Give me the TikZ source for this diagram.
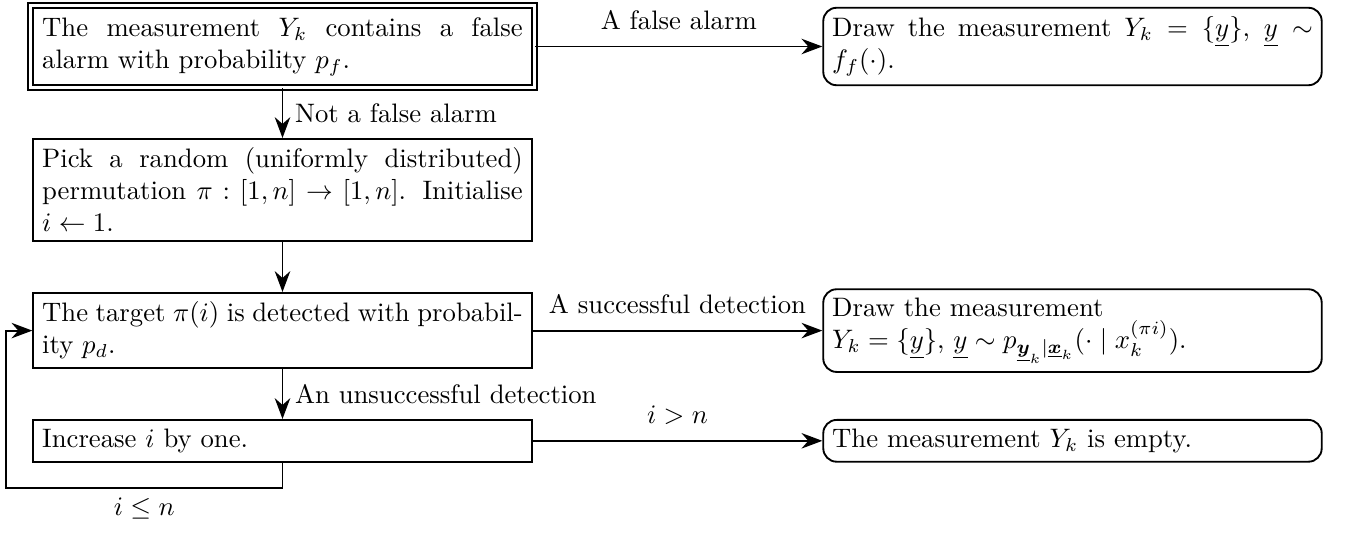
\documentclass[tikz,border=0pt]{standalone}
\usepackage{amsmath,amssymb}
\usetikzlibrary{arrows.meta,calc}

\begin{document}
\begin{tikzpicture}[x=0.3745pt,y=-0.3745pt,
  line width=0.7pt,
  stepbox/.style={draw, text width=180pt, align=justify, inner sep=3.33pt},
  startbox/.style={stepbox, double, double distance=1.2pt, inner sep=4.3pt},
  endbox/.style={stepbox, rounded corners=5pt},
  arr/.style={-{Stealth[length=7.8pt,width=5.8pt]}},
  hlab/.style={above=2.6pt},
  vlab/.style={right=1pt}]

\useasboundingbox (0,0) rectangle (1345,533);

% left column: the steps of the measurement model
\node[startbox] (A) at (282.5,46.5)
  {The measurement $Y_k$ contains a false alarm with probability $p_f$.};
\node[stepbox, anchor=north] (C) at (282.5,138)
  {Pick a random (uniformly distributed) permutation $\pi : [1,n] \to [1,n]$. Initialise $i \leftarrow 1$.};
\node[stepbox, anchor=north] (D) at (282.5,292)
  {The target $\pi(i)$ is detected with probability $p_d$.};
\node[stepbox, anchor=north] (F) at (282.5,419)
  {Increase $i$ by one.};

% right column: the outcomes
\node[endbox] (B) at ($(A)+(790,0)$)
  {Draw the measurement $Y_k = \{\underline{y}\}$, $\underline{y} \sim f_f(\cdot)$.};
\node[endbox] (E) at ($(D)+(790,0)$)
  {Draw the measurement\\ $Y_k = \{\underline{y}\}$, $\underline{y} \sim p_{\underline{\boldsymbol{y}}_k|\underline{\boldsymbol{x}}_k}(\cdot \mid x_k^{(\pi i)})$.};
\node[endbox] (G) at ($(F)+(790,0)$)
  {The measurement $Y_k$ is empty.};

% connectors
\draw[arr] (A.east) -- node[hlab] {A false alarm} (A.east -| B.west);
\draw[arr] (D.east) -- node[hlab] {A successful detection} (D.east -| E.west);
\draw[arr] (F.east) -- node[hlab] {$i > n$} (F.east -| G.west);

\draw[arr] (A.south) -- node[vlab] {Not a false alarm} (C.north);
\draw[arr] (C.south) -- (D.north);
\draw[arr] (D.south) -- node[vlab] {An unsuccessful detection} (F.north);

% loop back for the next target
\coordinate (L) at (6,488);
\draw[arr] (F.south) |- node[pos=0.75, below] {$i \leq n$} (L) |- (D.west);

\end{tikzpicture}
\end{document}
